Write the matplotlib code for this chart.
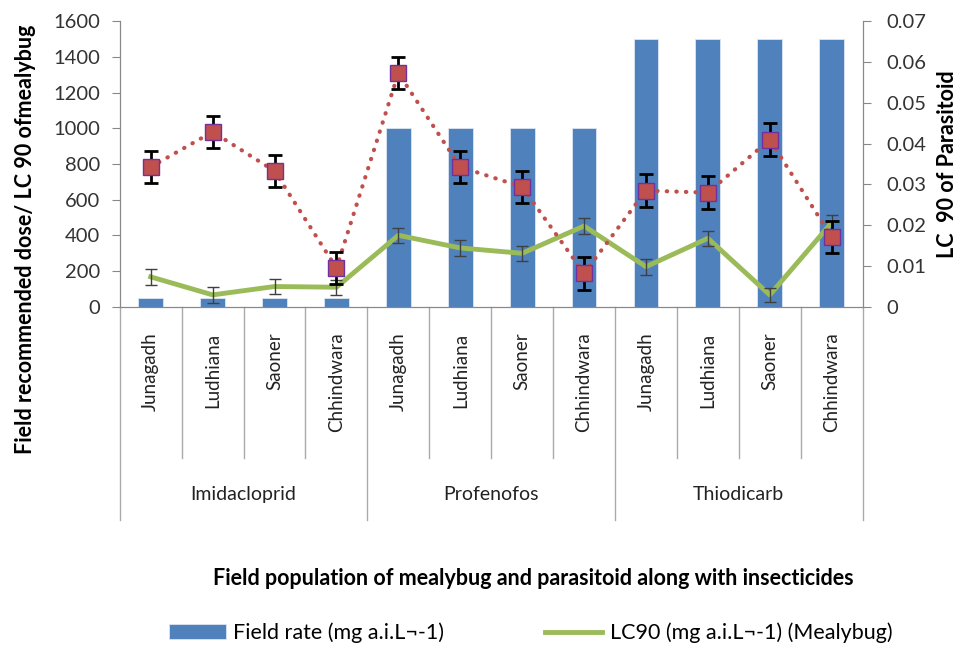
import matplotlib.pyplot as plt
import numpy as np

plt.rcParams['font.family'] = ['Lato', 'DejaVu Sans']

miasta = ["Junagadh", "Ludhiana", "Saoner", "Chhindwara"]
grupy = ["Imidacloprid", "Profenofos", "Thiodicarb"]
etykiety = miasta * 3

dawka_polowa = [50, 50, 50, 50, 1000, 1000, 1000, 1000, 1500, 1500, 1500, 1500]
lc90_mealybug = [168, 67, 114, 110, 401, 330, 300, 453, 225, 384, 67, 472]
lc90_mealybug_err = [43, 43, 43, 43, 43, 43, 41, 47, 44, 42, 41, 45]
lc90_parasitoid = [0.0343, 0.0429, 0.0333, 0.0095, 0.0573, 0.0343,
                   0.0294, 0.0082, 0.0285, 0.0280, 0.0410, 0.0171]
lc90_parasitoid_err = [0.004] * 12

x = np.arange(len(etykiety))

fig = plt.figure(figsize=(9.66, 6.46), dpi=100)
ax = fig.add_axes([0.124, 0.525, 0.769, 0.442])
ax2 = ax.twinx()

slupki = ax.bar(x, dawka_polowa, width=0.4, color="#4F81BD", edgecolor="#dce6f2",
                linewidth=0.6, zorder=1, label="Field rate (mg a.i.L¬-1)")
linia, = ax.plot(x, lc90_mealybug, color="#9BBB59", lw=3.5, zorder=3,
                 label="LC90 (mg a.i.L¬-1) (Mealybug)")
ax.errorbar(x, lc90_mealybug, yerr=lc90_mealybug_err, fmt="none",
            ecolor="#404040", elinewidth=1, capsize=4, capthick=1, zorder=4)

ax2.plot(x, lc90_parasitoid, color="#C0504D", lw=3, linestyle=(0, (0.1, 2.2)),
         dash_capstyle="round", zorder=2)
ax2.errorbar(x, lc90_parasitoid, yerr=lc90_parasitoid_err, fmt="none",
             ecolor="black", elinewidth=2, capsize=5, capthick=2, zorder=3)
ax2.plot(x, lc90_parasitoid, linestyle="none", marker="s", markersize=11,
         markerfacecolor="#C0504D", markeredgecolor="#7030A0",
         markeredgewidth=1, zorder=4)

ax.set_xlim(-0.5, 11.5)
ax.set_ylim(0, 1600)
ax.set_yticks(np.arange(0, 1601, 200))
ax2.set_ylim(0, 0.07)
ax2.set_yticks(np.arange(0, 0.0701, 0.01))
ax2.set_yticklabels(["0", "0.01", "0.02", "0.03", "0.04", "0.05", "0.06", "0.07"])

szary = "#888888"
for a in (ax, ax2):
    a.spines["top"].set_visible(False)
    for s in ("left", "right", "bottom"):
        a.spines[s].set_color(szary)
    a.tick_params(axis="y", labelsize=14.5, color=szary, length=6, pad=8,
                  labelcolor="#333333")
ax2.tick_params(axis="y", pad=11)

ax.set_xticks(x)
ax.set_xticklabels([])
ax.tick_params(axis="x", length=0)

tr = ax.get_xaxis_transform()
for i, nazwa in enumerate(etykiety):
    ax.text(i, -0.09, nazwa, rotation=90, ha="center", va="top", fontsize=13.5,
            transform=tr, color="#222222")
for i in range(13):
    dol = -0.745 if i % 4 == 0 else -0.528
    ax.plot([i - 0.5, i - 0.5], [0, dol], color="#aaaaaa", lw=1,
            transform=tr, clip_on=False)
for g, nazwa in enumerate(grupy):
    ax.text(g * 4 + 1.5, -0.656, nazwa, ha="center", va="center", fontsize=14,
            transform=tr, color="#222222")

ax.set_ylabel("Field recommended dose/ LC 90 ofmealybug", fontsize=15.5, fontweight="bold")
ax.yaxis.set_label_coords(-0.113, 0.238)
ax2.set_ylabel("LC  90 of Parasitoid", fontsize=15.5, fontweight="bold")
ax2.yaxis.set_label_coords(1.1, 0.5)

fig.text(0.552, 0.105, "Field population of mealybug and parasitoid along with insecticides",
         ha="center", va="center", fontsize=15.5, fontweight="bold")

fig.legend(handles=[slupki, linia], loc="center left", bbox_to_anchor=(0.175, 0.02),
           ncol=2, frameon=False, fontsize=15.5, columnspacing=4.7,
           handlelength=2.65, handletextpad=0.33, borderpad=0, borderaxespad=0)

fig.savefig("out.png", dpi=100)
